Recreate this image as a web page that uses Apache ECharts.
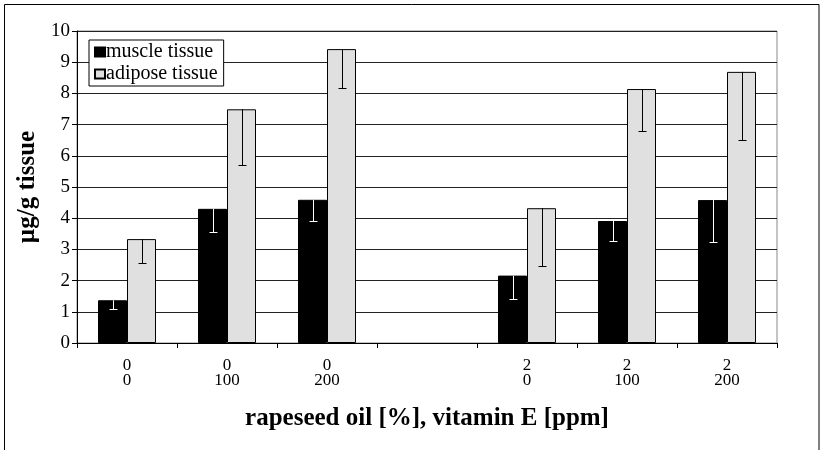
<!DOCTYPE html>
<html>
<head>
<meta charset="utf-8">
<script src="https://cdn.jsdelivr.net/npm/echarts@6/dist/echarts.min.js"></script>
<style>
html,body{margin:0;padding:0;background:#fff;}
#chart{width:823px;height:450px;}
</style>
</head>
<body>
<div id="chart"></div>
<script>
var categories = ['0\n0', '0\n100', '0\n200', '', '2\n0', '2\n100', '2\n200'];
var seriesNames = ['muscle tissue', 'adipose tissue'];
var muscle = [1.37, 4.30, 4.59, null, 2.16, 3.91, 4.58];
var muscleErr = [0.28, 0.74, 0.68, null, 0.74, 0.64, 1.35];
var adipose = [3.33, 7.49, 9.42, null, 4.32, 8.14, 8.69];
var adiposeErr = [0.75, 1.77, 1.26, null, 1.86, 1.33, 2.19];
var yTicks = [0, 1, 2, 3, 4, 5, 6, 7, 8, 9, 10];
var xTitle = 'rapeseed oil [%], vitamin E [ppm]';
var yTitle = 'µg/g tissue';

var FONT = '"Liberation Serif", "DejaVu Serif", serif';
var BAR_FRAC = 0.29;

function barData(vals) {
  return vals.map(function (v) { return v == null ? '-' : v; });
}
function errData(vals, errs) {
  var out = [];
  vals.forEach(function (v, i) {
    if (v != null) out.push([i, v, v - errs[i]]);
  });
  return out;
}
function errRender(sign, color) {
  return function (params, api) {
    var i = api.value(0);
    var top = api.coord([i, api.value(1)]);
    var low = api.coord([i, api.value(2)]);
    var band = api.size([1, 0])[0];
    var x = Math.round(top[0] + sign * band * BAR_FRAC / 2) + 0.5;
    var yl = Math.round(low[1]) + 0.5;
    var cap = 4;
    return {
      type: 'group',
      children: [
        { type: 'line', shape: { x1: x, y1: top[1], x2: x, y2: yl }, style: { stroke: color, lineWidth: 1 } },
        { type: 'line', shape: { x1: x - cap, y1: yl, x2: x + cap, y2: yl }, style: { stroke: color, lineWidth: 1 } }
      ]
    };
  };
}

var chart = echarts.init(document.getElementById('chart'));
chart.setOption({
  backgroundColor: '#fff',
  animation: false,
  textStyle: { fontFamily: FONT, color: '#000' },
  graphic: [{
    type: 'rect',
    shape: { x: 4.5, y: 4.5, width: 814.5, height: 460 },
    style: { fill: 'none', stroke: '#000', lineWidth: 1 },
    silent: true
  }],
  grid: {
    left: 77, right: 46, top: 31, bottom: 107,
    show: true, borderColor: '#888', borderWidth: 1, backgroundColor: 'transparent'
  },
  legend: {
    orient: 'vertical',
    left: 89, top: 40,
    data: seriesNames,
    backgroundColor: '#fff',
    borderColor: '#000', borderWidth: 1,
    padding: [2, 6, 2, 5],
    itemWidth: 10, itemHeight: 9, itemGap: 2,
    icon: 'rect',
    textStyle: { fontFamily: FONT, fontSize: 20, lineHeight: 20, color: '#000', padding: [0, 0, 0, -4] }
  },
  xAxis: {
    type: 'category',
    data: categories,
    axisLine: { lineStyle: { color: '#000', width: 1 } },
    axisTick: { show: true, length: 5, lineStyle: { color: '#000' } },
    axisLabel: { fontFamily: FONT, fontSize: 17, color: '#000', lineHeight: 15, margin: 15, interval: 0 },
    name: xTitle,
    nameLocation: 'middle',
    nameGap: 63,
    nameTextStyle: { fontFamily: FONT, fontSize: 25, fontWeight: 'bold', color: '#000' }
  },
  yAxis: {
    type: 'value',
    min: yTicks[0], max: yTicks[yTicks.length - 1], interval: 1,
    axisLine: { show: true, lineStyle: { color: '#000', width: 1 } },
    axisTick: { show: true, length: 5, lineStyle: { color: '#000' } },
    axisLabel: { fontFamily: FONT, fontSize: 19, color: '#000', margin: 7 },
    splitLine: { show: true, lineStyle: { color: '#222', width: 1 } },
    name: yTitle,
    nameLocation: 'middle',
    nameGap: 37,
    nameTextStyle: { fontFamily: FONT, fontSize: 25, fontWeight: 'bold', color: '#000' }
  },
  series: [
    {
      name: seriesNames[0], type: 'bar', data: barData(muscle),
      barWidth: (BAR_FRAC * 100) + '%', barGap: '0%',
      itemStyle: { color: '#000', borderColor: '#000', borderWidth: 1 }
    },
    {
      name: seriesNames[1], type: 'bar', data: barData(adipose),
      barWidth: (BAR_FRAC * 100) + '%', barGap: '0%',
      itemStyle: { color: '#e0e0e0', borderColor: '#000', borderWidth: 1 }
    },
    {
      type: 'custom', name: 'muscle err', data: errData(muscle, muscleErr),
      renderItem: errRender(-1, '#fff'), encode: { x: 0, y: 1 }, z: 5, silent: true
    },
    {
      type: 'custom', name: 'adipose err', data: errData(adipose, adiposeErr),
      renderItem: errRender(1, '#000'), encode: { x: 0, y: 1 }, z: 5, silent: true
    }
  ]
});
</script>
</body>
</html>
